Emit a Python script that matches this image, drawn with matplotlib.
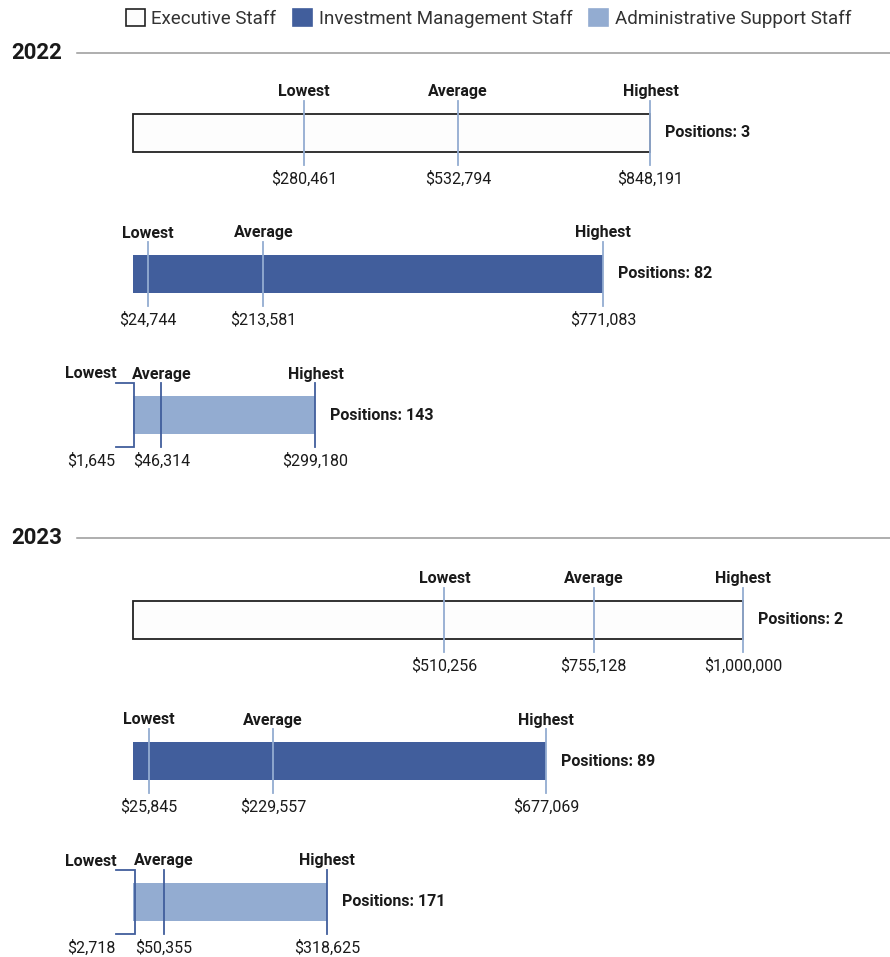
import matplotlib.pyplot as plt
from matplotlib.patches import Patch

plt.rcParams['font.family'] = ['Roboto', 'DejaVu Sans']

years = ['2022', '2023']
categories = ['Executive Staff', 'Investment Management Staff', 'Administrative Support Staff']

lowest_2022 = [280461, 24744, 1645]
average_2022 = [532794, 213581, 46314]
highest_2022 = [848191, 771083, 299180]
positions_2022 = [3, 82, 143]

lowest_2023 = [510256, 25845, 2718]
average_2023 = [755128, 229557, 50355]
highest_2023 = [1000000, 677069, 318625]
positions_2023 = [2, 89, 171]

dark = '#415E9C'
light = '#93ACD1'
fills = ['#FDFDFD', dark, light]
edges = ['#222222', dark, light]
marks = [light, light, dark]

W, H = 890, 957
x0 = 133            # pixel where $0 sits
ppm = 610           # pixels per $1M
px = 1e6 / ppm      # dollars per pixel

fig = plt.figure(figsize=(W / 100, H / 100), dpi=100)
ax = fig.add_axes([0, 0, 1, 1])
ax.set_xlim(-x0 * px, (W - x0) * px)
ax.set_ylim(H, 0)
ax.axis('off')

year_y = [53, 538]
row_base = [52.5, 539.5]
row_off = [80, 221.5, 362.5]
bar_h = 38
ext = 13

data = {
    '2022': (lowest_2022, average_2022, highest_2022, positions_2022),
    '2023': (lowest_2023, average_2023, highest_2023, positions_2023),
}

def money(v):
    return '${:,}'.format(v)

for yr, yy, yb in zip(years, year_y, row_base):
    ax.text(-122 * px, yy, yr, fontsize=16, fontweight='bold', color='#1a1a1a',
            ha='left', va='center')
    ax.plot([-56 * px, (W - x0) * px], [yy, yy], color='#999999', lw=1.1)
    lows, avgs, highs, poss = data[yr]
    for i in range(3):
        yc = yb + row_off[i]
        top, bot = yc - bar_h / 2, yc + bar_h / 2
        ax.barh(yc, highs[i], left=0, height=bar_h, color=fills[i],
                edgecolor=edges[i], linewidth=1.3 if i == 0 else 0)
        for name, v in [('Lowest', lows[i]), ('Average', avgs[i]), ('Highest', highs[i])]:
            xt = v
            if name == 'Lowest' and i == 2:
                # bracket pulled out to the left for tiny values
                ax.plot([-17 * px, v, v, -17 * px],
                        [top - ext, top - ext, bot + ext, bot + ext],
                        color=marks[i], lw=1.3, solid_joinstyle='miter')
                xt = -42 * px
            else:
                ax.plot([v, v], [top - ext, bot + ext], color=marks[i], lw=1.3)
            ax.text(xt, top - 17.5, name, fontsize=11.5, fontweight='bold', color='#1a1a1a',
                    ha='center', va='baseline')
            ax.text(xt, bot + 19, money(v), fontsize=11.5, color='#1a1a1a',
                    ha='center', va='top')
        ax.text(highs[i] + 15 * px, yc, 'Positions: %d' % poss[i], fontsize=11.5,
                fontweight='bold', color='#1a1a1a', ha='left', va='center')

handles = [Patch(facecolor=f, edgecolor=('#222222' if k == 0 else f), linewidth=1.2)
           for k, f in enumerate(fills)]
fig.legend(handles, categories, loc='upper center', bbox_to_anchor=(0.549, 1.008), ncol=3,
           frameon=False, fontsize=13.5, handlelength=1.0, handleheight=1.0,
           handletextpad=0.35, columnspacing=0.9, labelcolor='#333333')

fig.savefig('out.png', dpi=100)
